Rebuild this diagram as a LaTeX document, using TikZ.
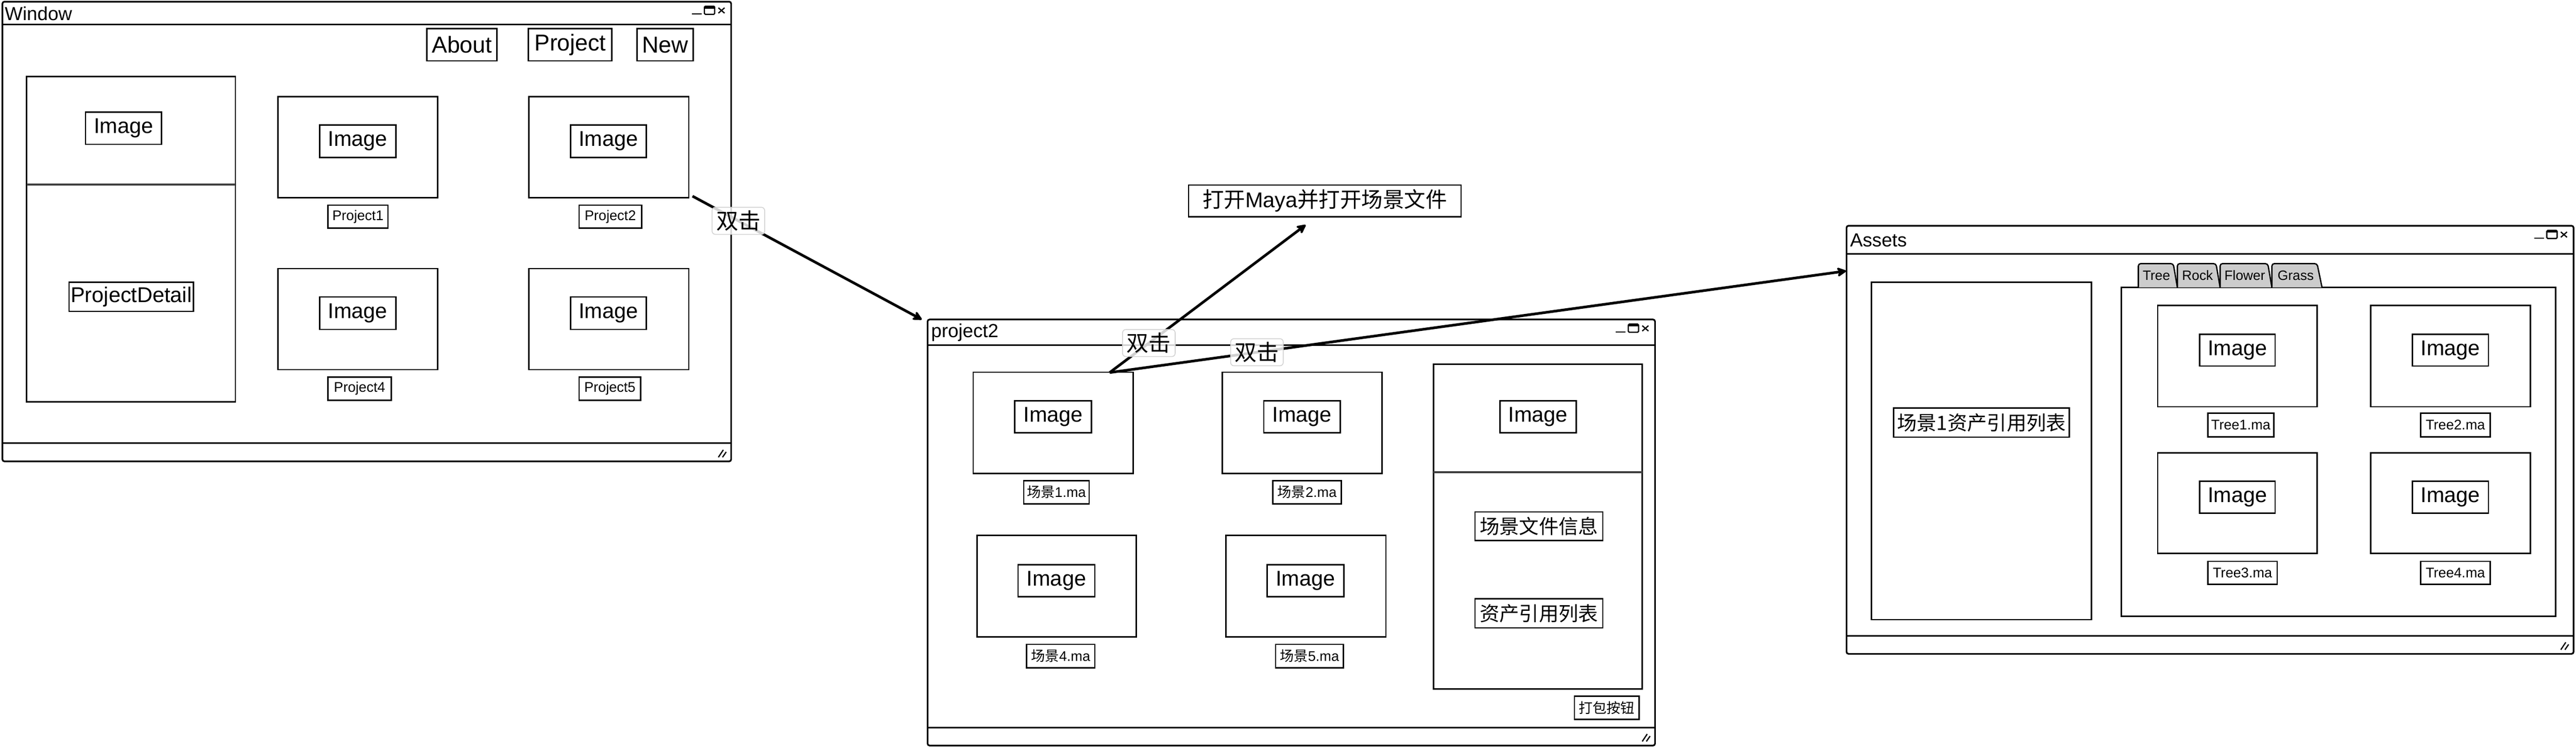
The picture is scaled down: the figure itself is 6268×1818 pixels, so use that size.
\documentclass[tikz,border=0pt]{standalone}
\usepackage{fontspec}
\setmainfont{Liberation Sans}
\newfontfamily\cjk{Noto Sans CJK SC}
\usetikzlibrary{arrows.meta,calc}
\newcommand\fsz[1]{\fontsize{#1}{#1}\selectfont}
\definecolor{divgray}{RGB}{64,64,64}
\definecolor{tabgray}{RGB}{204,204,204}
\tikzset{
  box/.style={draw, line width=0.85pt, inner sep=0pt, fill=white},
  win/.style={draw, line width=1pt, inner sep=0pt, fill=white, rounded corners=1.2pt},
  sepline/.style={line width=0.95pt},
  divider/.style={line width=1.4pt, draw=divgray},
  imgl/.style={box, font=\fsz{13}},
  btn/.style={box, font=\fsz{14}},
  capbox/.style={box, font=\fsz{8.5}},
  bigcn/.style={box, font=\cjk\fsz{12}},
  wtitle/.style={anchor=west, inner sep=0pt, font=\fsz{11.5}},
  tabshape/.style={fill=tabgray, draw, line width=0.8pt, rounded corners=1.5pt},
  tabtxt/.style={inner sep=0pt, font=\fsz{8.25}},
  conn/.style={line width=1.6pt, -{Stealth[length=7pt,width=7pt,inset=2.2pt,round]}},
  lbl/.style={fill=white, fill opacity=0.82, text opacity=1, draw=gray!35, line width=0.5pt,
    rounded corners=2pt, inner xsep=2.5pt, inner ysep=2pt, font=\cjk\fsz{13.5}},
}
% \bx[style]{name}{x1}{y1}{x2}{y2}{text}
\newcommand\bx[7][box]{%
  \node[#1, minimum width={(#5-#3)*0.25pt}, minimum height={(#6-#4)*0.25pt}]
    (#2) at ({(#3+#5)/2},{(#4+#6)/2}) {#7};}
\newcommand\winctl[2]{%
  \draw[line width=0.75pt] (#1-96,#2+30) -- (#1-72,#2+30);
  \draw[line width=0.75pt, rounded corners=0.6pt] (#1-65,#2+11) rectangle (#1-40,#2+31);
  \fill (#1-65,#2+11) rectangle (#1-40,#2+17);
  \draw[line width=0.75pt] (#1-31,#2+15) -- (#1-16,#2+28) (#1-31,#2+28) -- (#1-16,#2+15);
}
\newcommand\wingrip[2]{%
  \draw[line width=0.75pt] (#1-31,#2-10) -- (#1-19,#2-28) (#1-21,#2-10) -- (#1-12,#2-23);
}
\begin{document}
\begin{tikzpicture}[x=0.25pt,y=-0.25pt]
\useasboundingbox (0,0) rectangle (6268,1818);
\fill[white] (0,0) rectangle (6268,1818);

% ---------------- Window 1 ----------------
\bx[win]{w1}{6}{4}{1779}{1122}{}
\draw[sepline] (6,60) -- (1779,60);
\draw[sepline] (6,1078) -- (1779,1078);
\node[wtitle] (w1title) at (11,33) {Window};
\winctl{1779}{4}
\wingrip{1779}{1122}
\bx[btn]{about}{1039}{70}{1209}{148}{About}
\bx[btn]{projbtn}{1286}{70}{1489}{148}{Project}
\bx[btn]{newbtn}{1550}{70}{1687}{148}{New}
\bx{w1left}{65}{186}{573}{977}{}
\draw[divider] (65,449) -- (573,449);
\bx[imgl]{w1leftimg}{208}{273}{393}{351}{Image}
\bx[imgl]{pdetail}{168}{686}{471}{757}{ProjectDetail}
\bx{p1}{676}{235}{1065}{481}{}
\bx[imgl]{p1img}{778}{304}{963}{383}{Image}
\bx[capbox]{p1cap}{798}{499}{944}{555}{Project1}
\bx{p2}{1287}{235}{1676}{481}{}
\bx[imgl]{p2img}{1388}{304}{1573}{383}{Image}
\bx[capbox]{p2cap}{1409}{499}{1561}{555}{Project2}
\bx{p4}{676}{653}{1065}{899}{}
\bx[imgl]{p4img}{778}{722}{963}{801}{Image}
\bx[capbox]{p4cap}{798}{917}{952}{973}{Project4}
\bx{p5}{1287}{653}{1676}{899}{}
\bx[imgl]{p5img}{1388}{722}{1573}{801}{Image}
\bx[capbox]{p5cap}{1409}{917}{1559}{973}{Project5}

% ---------------- Window 2 ----------------
\bx[win]{w2}{2257}{777}{4027}{1813}{}
\draw[sepline] (2257,839) -- (4027,839);
\draw[sepline] (2257,1770) -- (4027,1770);
\node[wtitle] (w2title) at (2265,809) {project2};
\winctl{4027}{777}
\wingrip{4027}{1813}
\bx{s1}{2368}{905}{2757}{1151}{}
\bx[imgl]{s1img}{2469}{975}{2656}{1052}{Image}
\bx[capbox]{s1cap}{2491}{1169}{2650}{1225}{{\cjk 场景}1.ma}
\bx{s2}{2974}{905}{3363}{1151}{}
\bx[imgl]{s2img}{3075}{975}{3261}{1052}{Image}
\bx[capbox]{s2cap}{3097}{1169}{3264}{1225}{{\cjk 场景}2.ma}
\bx{s4}{2377}{1302}{2765}{1549}{}
\bx[imgl]{s4img}{2477}{1373}{2664}{1451}{Image}
\bx[capbox]{s4cap}{2498}{1567}{2664}{1624}{{\cjk 场景}4.ma}
\bx{s5}{2983}{1302}{3372}{1549}{}
\bx[imgl]{s5img}{3083}{1373}{3270}{1451}{Image}
\bx[capbox]{s5cap}{3104}{1567}{3269}{1624}{{\cjk 场景}5.ma}
\bx{w2right}{3488}{886}{3996}{1675}{}
\draw[divider] (3488,1148) -- (3996,1148);
\bx[imgl]{w2rimg}{3650}{975}{3835}{1052}{Image}
\bx[bigcn]{sinfo}{3589}{1245}{3900}{1314}{场景文件信息}
\bx[bigcn]{reflist}{3589}{1456}{3900}{1527}{资产引用列表}
\bx[capbox]{pack}{3831}{1693}{3988}{1749}{{\cjk 打包按钮}}
\bx[box,font=\fsz{13}]{maya}{2892}{450}{3555}{527}{{\cjk 打开}Maya{\cjk 并打开场景文件}}

% ---------------- Window 3 ----------------
\bx[win]{w3}{4493}{549}{6262}{1590}{}
\draw[sepline] (4493,618) -- (6262,618);
\draw[sepline] (4493,1546) -- (6262,1546);
\node[wtitle] (w3title) at (4501,584) {Assets};
\winctl{6262}{549}
\wingrip{6262}{1590}
\bx{w3left}{4554}{686}{5089}{1507}{}
\bx[bigcn]{s1ref}{4608}{992}{5035}{1063}{场景1资产引用列表}
\bx{tabpanel}{5162}{699}{6218}{1499}{}
\filldraw[tabshape] (5203,699) -- (5203,641) -- (5288,641) -- (5298,699);
\filldraw[tabshape] (5298,699) -- (5298,641) -- (5392,641) -- (5402,699);
\filldraw[tabshape] (5402,699) -- (5402,641) -- (5518,641) -- (5528,699);
\filldraw[tabshape] (5528,699) -- (5528,641) -- (5638,641) -- (5650,699);
\node[tabtxt] (ttree) at (5247,670) {Tree};
\node[tabtxt] (trock) at (5347,670) {Rock};
\node[tabtxt] (tflower) at (5462,670) {Flower};
\node[tabtxt] (tgrass) at (5586,670) {Grass};
\bx{t1}{5250}{743}{5638}{989}{}
\bx[imgl]{t1img}{5352}{813}{5536}{890}{Image}
\bx[capbox]{t1cap}{5372}{1005}{5533}{1062}{Tree1.ma}
\bx{t2}{5768}{743}{6157}{989}{}
\bx[imgl]{t2img}{5870}{813}{6055}{890}{Image}
\bx[capbox]{t2cap}{5890}{1005}{6059}{1062}{Tree2.ma}
\bx{t3}{5250}{1101}{5638}{1346}{}
\bx[imgl]{t3img}{5352}{1170}{5536}{1248}{Image}
\bx[capbox]{t3cap}{5372}{1365}{5541}{1421}{Tree3.ma}
\bx{t4}{5768}{1101}{6157}{1346}{}
\bx[imgl]{t4img}{5870}{1170}{6055}{1248}{Image}
\bx[capbox]{t4cap}{5890}{1365}{6059}{1421}{Tree4.ma}

% ---------------- Connectors ----------------
\coordinate (a0s) at (1685,477);
\coordinate (a0e) at (2243,777);
\coordinate (a1s) at (2700,906);
\coordinate (a1e) at (3177,547);
\coordinate (a2e) at (4492,659);
\draw[conn] (a0s) -- node[lbl, pos=0.2] (l0) {双击} (a0e);
\draw[conn] (a1s) -- node[lbl, pos=0.2] (l1) {双击} (a1e);
\draw[conn] (a1s) -- node[lbl, pos=0.2] (l2) {双击} (a2e);
\end{tikzpicture}
\end{document}
